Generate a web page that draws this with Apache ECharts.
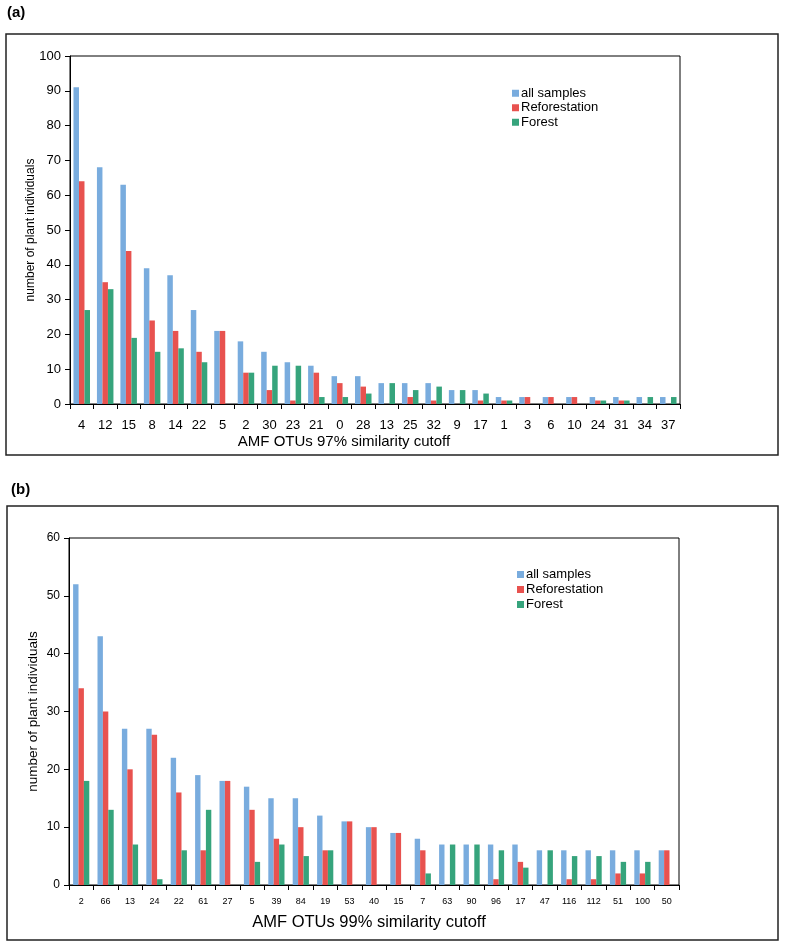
<!DOCTYPE html>
<html>
<head>
<meta charset="utf-8">
<script src="https://cdn.jsdelivr.net/npm/echarts@6/dist/echarts.min.js"></script>
<style>
html,body{margin:0;padding:0;background:#fff;}
#main{width:785px;height:947px;}
</style>
</head>
<body>
<div id="main"></div>
<script>
// Panel (a): AMF OTUs 97% similarity cutoff
const catsA = ['4','12','15','8','14','22','5','2','30','23','21','0','28','13','25','32','9','17','1','3','6','10','24','31','34','37'];
const allA  = [91,68,63,39,37,27,21,18,15,12,11,8,8,6,6,6,4,4,2,2,2,2,2,2,2,2];
const refA  = [64,35,44,24,21,15,21,9,4,1,9,6,5,0,2,1,0,1,1,2,2,2,1,1,0,0];
const forA  = [27,33,19,15,16,12,0,9,11,11,2,2,3,6,4,5,4,3,1,0,0,0,1,1,2,2];

// Panel (b): AMF OTUs 99% similarity cutoff
const catsB = ['2','66','13','24','22','61','27','5','39','84','19','53','40','15','7','63','90','96','17','47','116','112','51','100','50'];
const allB  = [52,43,27,27,22,19,18,17,15,15,12,11,10,9,8,7,7,7,7,6,6,6,6,6,6];
const refB  = [34,30,20,26,16,6,18,13,8,10,6,11,10,9,6,0,0,1,4,0,1,1,2,2,6];
const forB  = [18,13,7,1,6,13,0,4,7,5,6,0,0,0,2,7,7,6,3,6,5,5,4,4,0];

const seriesNames = ['all samples','Reforestation','Forest'];
const colors = ['#79acde','#e8524f','#36a47c'];

const FONT = 'Liberation Sans, Arial, sans-serif';

function xAxisCfg(gridIndex, cats, name, nfs, fs, margin, namePad, nameGap) {
  return {
    type:'category', gridIndex, data:cats,
    name, nameLocation:'middle', nameGap, nameMoveOverlap:false,
    nameTextStyle:{fontFamily:FONT, fontSize:nfs, color:'#000', padding:namePad},
    axisLine:{lineStyle:{color:'#000', width:1}},
    axisTick:{show:true, length:5, lineStyle:{color:'#000'}},
    axisLabel:{interval:0, fontFamily:FONT, fontSize:fs, color:'#000', margin},
    splitLine:{show:false}
  };
}
function yAxisCfg(gridIndex, max, fs, nfs, nameGap) {
  return {
    type:'value', gridIndex, min:0, max, interval:10,
    name:'number of plant individuals', nameLocation:'middle', nameGap, nameMoveOverlap:false,
    nameTextStyle:{fontFamily:FONT, fontSize:nfs, color:'#000'},
    axisLine:{show:true, lineStyle:{color:'#000', width:1}},
    axisTick:{show:true, length:5, lineStyle:{color:'#000'}},
    axisLabel:{fontFamily:FONT, fontSize:fs, color:'#000', margin:9},
    splitLine:{show:false}
  };
}

const dataA = [allA, refA, forA];
const dataB = [allB, refB, forB];
const series = [];
seriesNames.forEach((n,i)=>{
  series.push({name:n, type:'bar', xAxisIndex:0, yAxisIndex:0, data:dataA[i],
    barWidth:5.5, barGap:'0%', itemStyle:{color:colors[i]}, animation:false});
});
seriesNames.forEach((n,i)=>{
  series.push({name:n, type:'bar', xAxisIndex:1, yAxisIndex:1, data:dataB[i],
    barWidth:5.4, barGap:'0%', itemStyle:{color:colors[i]}, animation:false});
});

const chart = echarts.init(document.getElementById('main'), null, {renderer:'canvas'});
chart.setOption({
  backgroundColor:'#fff',
  animation:false,
  textStyle:{fontFamily:FONT},
  graphic:[
    {type:'rect', shape:{x:6, y:34, width:772, height:421}, style:{fill:'none', stroke:'#222', lineWidth:1.5}, z:-1},
    {type:'rect', shape:{x:7, y:506, width:771, height:434}, style:{fill:'none', stroke:'#222', lineWidth:1.5}, z:-1},
    {type:'text', left:7, top:5, style:{text:'(a)', font:'bold 15px "Liberation Sans Narrow", "Liberation Sans", Arial', fill:'#000'}},
    {type:'text', left:11, top:482, style:{text:'(b)', font:'bold 15px "Liberation Sans Narrow", "Liberation Sans", Arial', fill:'#000'}}
  ],
  grid:[
    {left:70, top:56, width:610, height:348, show:true, borderColor:'#000', borderWidth:1, backgroundColor:'transparent'},
    {left:69, top:538, width:610, height:347, show:true, borderColor:'#000', borderWidth:1, backgroundColor:'transparent'}
  ],
  legend:[
    {data:seriesNames, orient:'vertical', left:507, top:81, itemWidth:7, itemHeight:7, itemGap:0,
     icon:'rect', textStyle:{fontFamily:FONT, fontSize:13, color:'#000', lineHeight:14.5, padding:[0,0,0,-3]}, selectedMode:false},
    {data:seriesNames, orient:'vertical', left:512, top:562, itemWidth:7, itemHeight:7, itemGap:0,
     icon:'rect', textStyle:{fontFamily:FONT, fontSize:13, color:'#000', lineHeight:15, padding:[0,0,0,-3]}, selectedMode:false}
  ],
  xAxis:[
    xAxisCfg(0, catsA, 'AMF OTUs 97% similarity cutoff', 15, 13, 15, [0,62,0,0], 30),
    xAxisCfg(1, catsB, 'AMF OTUs 99% similarity cutoff', 16.5, 9, 12, [0,10,0,0], 29)
  ],
  yAxis:[
    yAxisCfg(0, 100, 13, 12, 33),
    yAxisCfg(1, 60, 12, 13.5, 29)
  ],
  series
});
</script>
</body>
</html>
